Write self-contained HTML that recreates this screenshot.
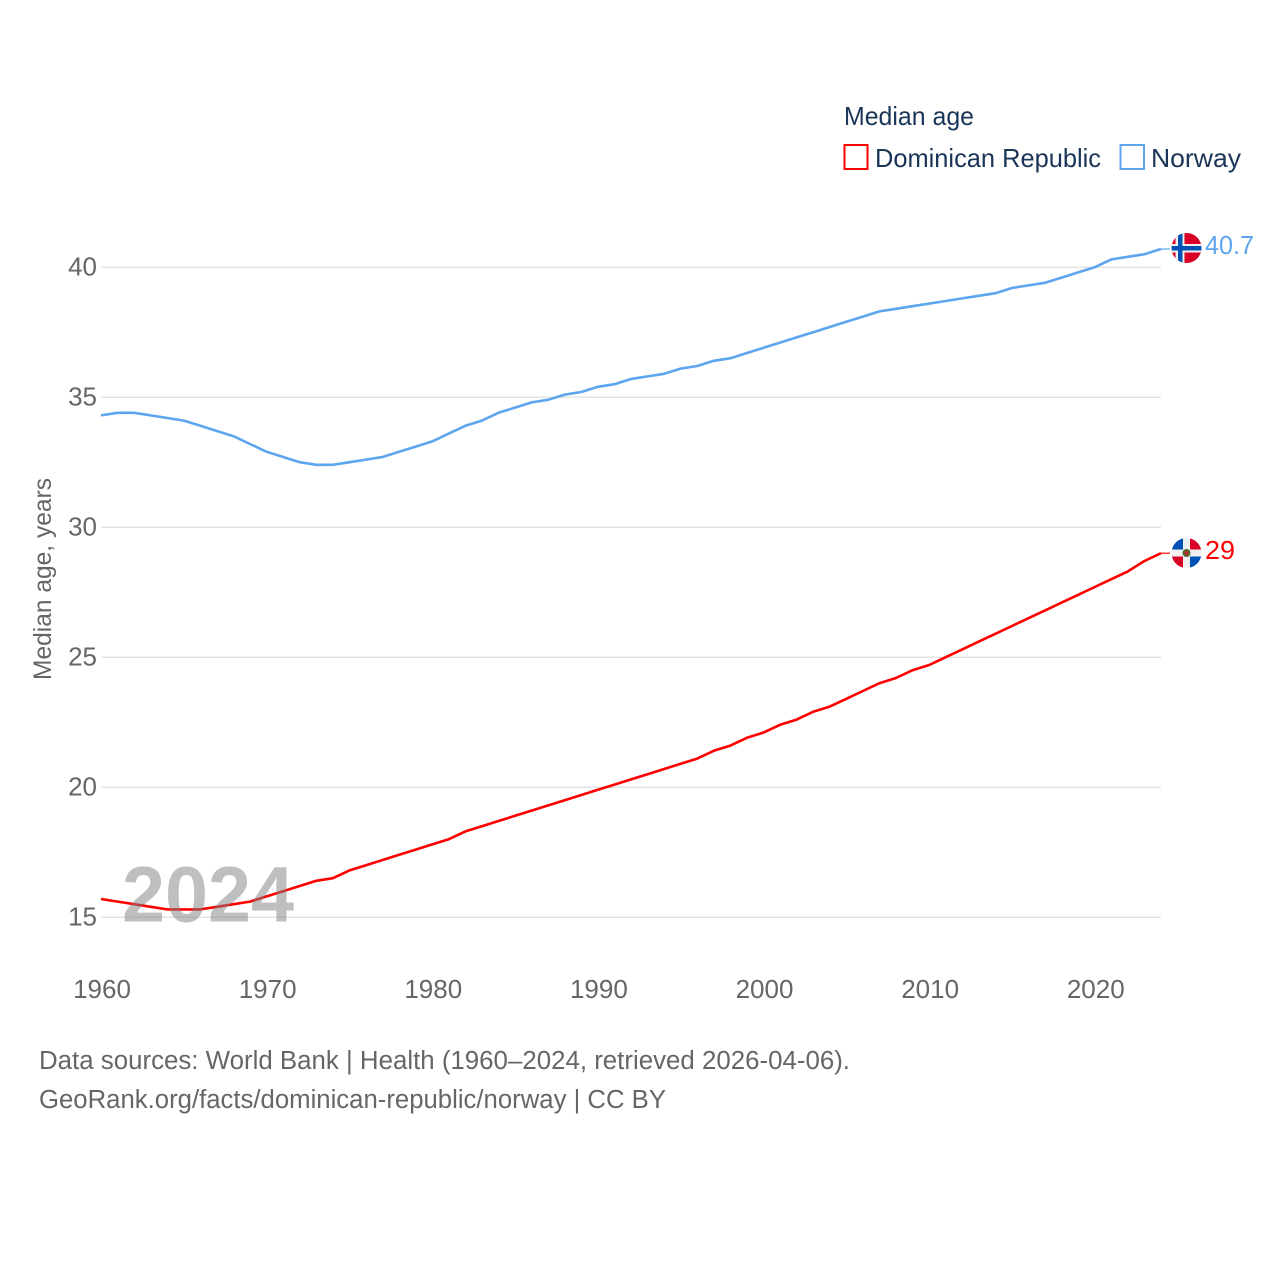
<!DOCTYPE html>
<html lang="en">
<head>
<meta charset="utf-8">
<title>Median age: Dominican Republic and Norway</title>
<style>
html,body{margin:0;padding:0;background:#fff;}
svg{display:block;font-family:"Liberation Sans",sans-serif;}
</style>
</head>
<body>
<svg id="chart" width="1280" height="1280" viewBox="0 0 1280 1280" xmlns="http://www.w3.org/2000/svg">
  <defs>
    <clipPath id="flag-clip-no"><circle cx="1186.5" cy="248" r="15"/></clipPath>
    <clipPath id="flag-clip-do"><circle cx="1186.5" cy="553" r="15"/></clipPath>
  </defs>

  <g id="grid"></g>
  <g id="yticks"></g>
  <g id="xticks"></g>
  <g id="series"></g>

  <text x="122" y="921.5" font-size="79" font-weight="700" fill="#808080" fill-opacity="0.5" textLength="172" lengthAdjust="spacingAndGlyphs">2024</text>

  <text transform="translate(51,680) rotate(-90)" font-size="25" fill="#666666" textLength="202" lengthAdjust="spacingAndGlyphs">Median age, years</text>

  <g>
    <text x="844" y="125" font-size="26" fill="#1a3557" textLength="130" lengthAdjust="spacingAndGlyphs">Median age</text>
    <rect x="844.5" y="145" width="23" height="24" fill="#ffffff" stroke="#ff0000" stroke-width="2"/>
    <text x="875" y="167" font-size="26" fill="#1a3557" textLength="226" lengthAdjust="spacingAndGlyphs">Dominican Republic</text>
    <rect x="1120.5" y="145" width="23.5" height="24" fill="#ffffff" stroke="#5da5ee" stroke-width="2"/>
    <text x="1151" y="167" font-size="26" fill="#1a3557" textLength="90" lengthAdjust="spacingAndGlyphs">Norway</text>
  </g>

  <g clip-path="url(#flag-clip-no)">
    <rect x="1171" y="233" width="31" height="31" fill="#d80027"/>
    <rect x="1175.5" y="233" width="9" height="31" fill="#f0f0f0"/>
    <rect x="1171" y="244" width="31" height="8.5" fill="#f0f0f0"/>
    <rect x="1178" y="233" width="4.5" height="31" fill="#0052b4"/>
    <rect x="1171" y="246" width="31" height="4.5" fill="#0052b4"/>
  </g>
  <text id="label-no" x="1205" y="254" font-size="26" fill="#5da5ee" textLength="49" lengthAdjust="spacingAndGlyphs"></text>

  <g clip-path="url(#flag-clip-do)">
    <rect x="1171" y="538" width="31" height="31" fill="#f0f0f0"/>
    <rect x="1171" y="538" width="12" height="11.5" fill="#0052b4"/>
    <rect x="1190" y="538" width="12" height="11.5" fill="#d80027"/>
    <rect x="1171" y="556.5" width="12" height="13" fill="#d80027"/>
    <rect x="1190" y="556.5" width="12" height="13" fill="#0052b4"/>
    <circle cx="1186.5" cy="553" r="4" fill="#496e2d"/>
    <circle cx="1186.5" cy="553" r="2" fill="#c0202f"/>
  </g>
  <text id="label-do" x="1205" y="559" font-size="26" fill="#ff0000" textLength="30" lengthAdjust="spacingAndGlyphs"></text>

  <text x="39" y="1069" font-size="25.5" fill="#666666" textLength="811" lengthAdjust="spacingAndGlyphs">Data sources: World Bank | Health (1960–2024, retrieved 2026-04-06).</text>
  <text x="39" y="1108" font-size="25.5" fill="#666666" textLength="627" lengthAdjust="spacingAndGlyphs">GeoRank.org/facts/dominican-republic/norway | CC BY</text>
</svg>
<script>
var years = [1960,1961,1962,1963,1964,1965,1966,1967,1968,1969,1970,1971,1972,1973,1974,1975,1976,1977,1978,1979,1980,1981,1982,1983,1984,1985,1986,1987,1988,1989,1990,1991,1992,1993,1994,1995,1996,1997,1998,1999,2000,2001,2002,2003,2004,2005,2006,2007,2008,2009,2010,2011,2012,2013,2014,2015,2016,2017,2018,2019,2020,2021,2022,2023,2024];
var norwayValues = [34.3,34.4,34.4,34.3,34.2,34.1,33.9,33.7,33.5,33.2,32.9,32.7,32.5,32.4,32.4,32.5,32.6,32.7,32.9,33.1,33.3,33.6,33.9,34.1,34.4,34.6,34.8,34.9,35.1,35.2,35.4,35.5,35.7,35.8,35.9,36.1,36.2,36.4,36.5,36.7,36.9,37.1,37.3,37.5,37.7,37.9,38.1,38.3,38.4,38.5,38.6,38.7,38.8,38.9,39.0,39.2,39.3,39.4,39.6,39.8,40.0,40.3,40.4,40.5,40.7];
var dominicanValues = [15.7,15.6,15.5,15.4,15.3,15.3,15.3,15.4,15.5,15.6,15.8,16.0,16.2,16.4,16.5,16.8,17.0,17.2,17.4,17.6,17.8,18.0,18.3,18.5,18.7,18.9,19.1,19.3,19.5,19.7,19.9,20.1,20.3,20.5,20.7,20.9,21.1,21.4,21.6,21.9,22.1,22.4,22.6,22.9,23.1,23.4,23.7,24.0,24.2,24.5,24.7,25.0,25.3,25.6,25.9,26.2,26.5,26.8,27.1,27.4,27.7,28.0,28.3,28.7,29.0];
var yTicks = [15,20,25,30,35,40];
var xTicks = [1960,1970,1980,1990,2000,2010,2020];

var SVG_NS = 'http://www.w3.org/2000/svg';
function xScale(year){ return 101 + (year - 1960) * (1161 - 101) / (2024 - 1960); }
function yScale(value){ return 917.2 - (value - 15) * 26; }
function make(tag, attrs, parent){
  var el = document.createElementNS(SVG_NS, tag);
  for (var k in attrs) { el.setAttribute(k, attrs[k]); }
  parent.appendChild(el);
  return el;
}

var gridGroup = document.getElementById('grid');
var yGroup = document.getElementById('yticks');
var xGroup = document.getElementById('xticks');
var seriesGroup = document.getElementById('series');

yTicks.forEach(function(t){
  var line = make('line', {x1: xScale(1960), x2: xScale(2024), y1: yScale(t), y2: yScale(t), stroke: '#e4e4e4', 'stroke-width': 1.5}, gridGroup);
  
  
  var label = make('text', {x: 97, y: yScale(t) + 8.5, 'text-anchor': 'end', 'font-size': 26, fill: '#666666'}, yGroup);
  label.textContent = String(t);
  
  
});

xTicks.forEach(function(t){
  var label = make('text', {x: xScale(t) + 1, y: 998, 'text-anchor': 'middle', 'font-size': 26, fill: '#666666'}, xGroup);
  label.textContent = String(t);
  
  
});

function drawSeries(values, color, name){
  var pts = values.map(function(v, i){ return xScale(years[i]).toFixed(2) + ',' + yScale(v).toFixed(2); }).join(' ');
  var line = make('polyline', {points: pts, fill: 'none', stroke: color, 'stroke-width': 2.6, 'stroke-linejoin': 'round', 'stroke-linecap': 'butt'}, seriesGroup);
  
  
  var last = values[values.length - 1];
  var lead = make('line', {x1: xScale(years[years.length - 1]), x2: 1170, y1: yScale(last), y2: yScale(last), stroke: color, 'stroke-width': 1.2}, seriesGroup);
  
  
}
drawSeries(norwayValues, '#5da5ee', 'norway');
drawSeries(dominicanValues, '#ff0000', 'dominican-republic');

document.getElementById('label-no').textContent = String(norwayValues[norwayValues.length - 1]);
document.getElementById('label-do').textContent = String(dominicanValues[dominicanValues.length - 1]);
</script>
</body>
</html>
